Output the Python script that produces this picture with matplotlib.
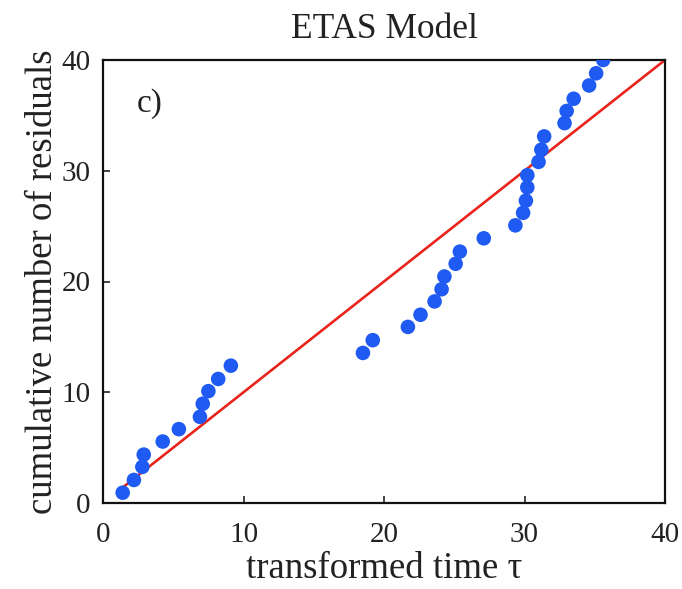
import matplotlib
matplotlib.use("Agg")
import matplotlib.pyplot as plt

# Data
tau = [1.4, 2.2, 2.8, 2.9, 4.25, 5.4, 6.9, 7.1, 7.5, 8.2, 9.1,
       18.5, 19.2, 21.7, 22.6, 23.6, 24.1, 24.3, 25.1, 25.4, 27.1,
       29.35, 29.9, 30.1, 30.2, 30.2, 31.0, 31.2, 31.4, 32.85, 33.0,
       33.5, 34.6, 35.1, 35.6]
residuals = [0.93, 2.08, 3.26, 4.37, 5.55, 6.67, 7.78, 8.96, 10.1, 11.2, 12.4,
             13.55, 14.7, 15.9, 17.0, 18.2, 19.3, 20.45, 21.6, 22.7, 23.9,
             25.07, 26.2, 27.3, 28.5, 29.6, 30.8, 31.9, 33.1, 34.3, 35.4,
             36.5, 37.7, 38.8, 40.0]
line_x = [1.2, 40]
line_y = [1.2, 40]
ticks = [0, 10, 20, 30, 40]

plt.rcParams['font.family'] = ['Liberation Serif', 'DejaVu Serif']

fig = plt.figure(figsize=(6.82, 5.89), dpi=100)
ax = fig.add_axes([103 / 682, 1 - 503 / 589, (665 - 103) / 682, (503 - 60) / 589])

ax.plot(line_x, line_y, color='#e8241c', lw=1.9, zorder=2)
ax.scatter(tau, residuals, s=110, color='#1f5bf2', edgecolors='none', zorder=3)

ax.set_xlim(0, 40)
ax.set_ylim(0, 40)
ax.set_xticks(ticks)
ax.set_yticks(ticks)
ax.tick_params(direction='in', length=5, width=1.2, labelsize=21, colors='#222222')
ax.tick_params(axis='x', pad=14)
ax.tick_params(axis='y', pad=9)
for s in ax.spines.values():
    s.set_linewidth(1.6)
    s.set_color('#111111')

ax.set_title('ETAS Model', fontsize=25.5, pad=16, color='#222222')
ax.set_xlabel('transformed time τ', fontsize=26.5, labelpad=2, color='#222222')
ax.set_ylabel('cumulative number of residuals', fontsize=26.5, labelpad=1, color='#222222')
ax.text(2.4, 36.1, 'c)', fontsize=24, va='center', ha='left', color='#222222')

fig.savefig('out.png', dpi=100)
